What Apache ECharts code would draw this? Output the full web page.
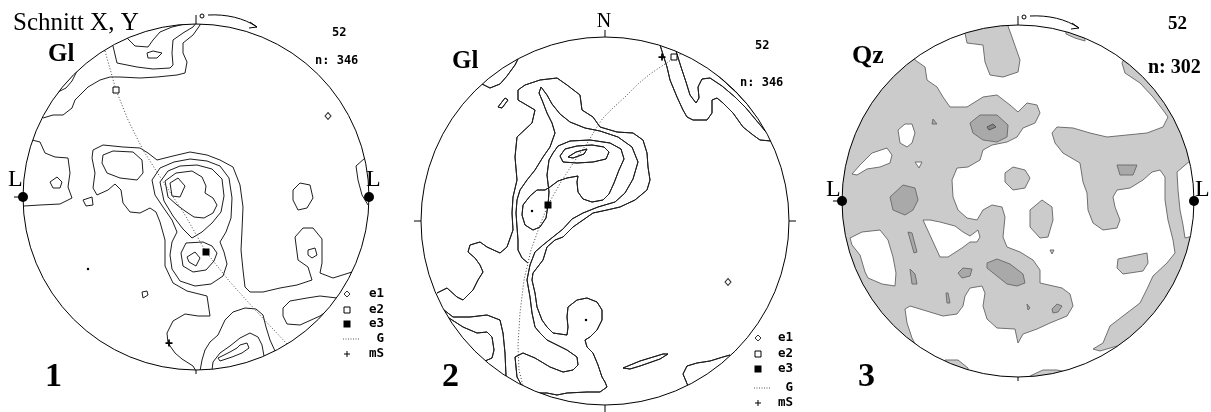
<!DOCTYPE html>
<html>
<head>
<meta charset="utf-8">
<script src="https://cdn.jsdelivr.net/npm/echarts/dist/echarts.min.js"></script>
<style>
  html, body { margin: 0; padding: 0; background: #fff; }
  #chart { width: 1211px; height: 412px; }
</style>
</head>
<body>
<div id="chart"></div>
<script>
// net units: origin = centre of the net, y up, net radius = panel r
var panels = [
  { cx: 196, cy: 197, r: 173 },
  { cx: 605, cy: 221, r: 184 },
  { cx: 1018, cy: 201, r: 176 }
];

var sectionTitle = 'Schnitt X, Y';
var mineral = ['Gl', 'Gl', 'Qz'];
var maxLabel = ['52', '52', '52'];
var nLabel = ['n: 346', 'n: 346', 'n: 302'];
var panelNo = ['1', '2', '3'];
var legendLabels = ['e1', 'e2', 'e3', 'G', 'mS'];

// ---- panel 1: Gl contours
var glContours1 = [
  [[-153,79],[-143,82],[-133,82],[-124,89],[-121,97],[-108,110],[-96,117],[-86,120],[-76,120],[-56,119],[-39,120],[-19,122],[-11,124],[-9,135],[-13,144],[-13,154],[-3,162],[2,169],[6,175]],
  [[-83,151],[-79,134],[-59,130],[-43,128],[-26,129],[-23,132],[-24,144],[-23,157],[-13,164],[-3,170],[0,174]],
  [[-69,159],[-61,151],[-48,150],[-43,157],[-36,165],[-24,170],[-11,173]],
  [[-49,144],[-43,146],[-34,144],[-39,139],[-48,139],[-49,144]],
  [[-138,105],[-130,109],[-124,116],[-119,126]],
  [[-164,57],[-156,55],[-151,44],[-141,40],[-128,39],[-126,24],[-128,10],[-124,-1],[-136,-7],[-156,-8],[-172,-9]],
  [[-146,15],[-139,20],[-134,15],[-136,9],[-143,9],[-146,15]],
  [[-113,-3],[-104,0],[-103,-8],[-110,-9],[-113,-3]],
  [[0,-174],[-3,-169],[-14,-162],[-21,-156],[-28,-146],[-29,-136],[-23,-124],[-11,-117],[2,-119],[14,-119],[11,-99],[-9,-94],[-23,-86],[-31,-69],[-31,-43],[-36,-25],[-40,-15],[-46,-11],[-56,-16],[-66,-15],[-73,-6],[-75,7],[-81,13],[-88,7],[-99,2],[-103,9],[-101,24],[-104,39],[-103,47],[-93,52],[-73,50],[-56,49],[-48,44],[-39,37],[-23,41],[-6,45],[11,42],[24,37],[37,30],[44,12],[47,-10],[46,-33],[45,-53],[47,-73],[49,-90],[54,-95],[67,-95],[84,-91],[101,-88],[116,-83],[112,-70],[102,-63],[99,-40],[107,-31],[117,-31],[126,-42],[126,-66],[124,-76],[137,-81],[156,-75]],
  [[-93,42],[-83,46],[-63,45],[-54,37],[-53,24],[-59,17],[-76,19],[-89,24],[-94,34],[-93,42]],
  [[-44,17],[-36,29],[-22,35],[-6,38],[11,36],[24,31],[33,19],[36,-1],[35,-21],[30,-35],[24,-45],[28,-55],[31,-67],[27,-79],[15,-87],[-1,-89],[-16,-84],[-24,-72],[-26,-58],[-24,-45],[-19,-35],[-24,-23],[-33,-10],[-41,2],[-44,17]],
  [[-36,15],[-28,26],[-16,31],[1,32],[16,28],[26,18],[28,1],[25,-15],[16,-26],[6,-35],[-4,-41],[-13,-32],[-23,-19],[-32,-4],[-36,15]],
  [[-31,16],[-20,24],[-4,26],[6,20],[10,11],[9,4],[17,-1],[21,-8],[17,-16],[8,-21],[-2,-20],[-11,-14],[-19,-8],[-28,0],[-31,16]],
  [[-26,14],[-18,19],[-11,11],[-16,0],[-24,1],[-26,14]],
  [[-10,-46],[-15,-56],[-13,-69],[-3,-75],[10,-73],[18,-64],[21,-56],[16,-49],[7,-45],[-10,-46]],
  [[-9,-60],[-1,-55],[4,-61],[0,-69],[-7,-65],[-9,-60]],
  [[112,-53],[119,-51],[121,-58],[116,-61],[112,-58],[112,-53]],
  [[97,7],[104,14],[114,12],[117,-1],[111,-11],[102,-13],[97,-3],[97,7]],
  [[169,39],[160,31],[162,17],[166,2],[172,-8]],
  [[141,-101],[124,-99],[111,-101],[94,-104],[87,-111],[87,-119],[91,-127],[104,-128],[124,-119],[135,-111]],
  [[4,-174],[6,-163],[9,-153],[14,-145],[22,-138],[29,-123],[37,-115],[49,-111],[60,-112],[67,-118],[70,-130],[74,-143],[79,-154]],
  [[16,-173],[17,-165],[24,-156],[34,-149],[44,-141],[54,-136],[62,-140],[66,-148],[68,-159]],
  [[22,-161],[34,-155],[41,-151],[44,-148],[51,-146],[53,-151],[46,-156],[36,-160],[24,-164],[22,-161]],
  [[-54,-95],[-49,-94],[-48,-98],[-53,-101],[-54,-95]]
];
var greatCircle1 = [[-91,146],[-80,107],[-68,77],[-53,47],[-34,17],[-11,-18],[10,-55],[34,-85],[62,-116],[91,-147]];
var e1Pts1 = [[132, 81]];
var e2Pts1 = [[-80, 107]];
var e3Pts1 = [[10, -55]];
var msPts1 = [[-27, -146]];
var spots1 = [[-108, -72]];
var lineation1 = [[-173, 0], [173, 0]];

// ---- panel 2: Gl contours
var glContours2 = [
  [[-123,137],[-115,133],[-105,137],[-98,145],[-90,156],[-87,162]],
  [[-107,114],[-100,123],[-97,121],[-103,113],[-107,114]],
  [[-168,-72],[-158,-67],[-148,-76],[-142,-79],[-132,-69],[-127,-59],[-122,-51],[-125,-44],[-130,-37],[-137,-31],[-135,-24],[-125,-21],[-118,-26],[-105,-32],[-98,-26],[-92,-9],[-93,8],[-92,24],[-88,41],[-90,64],[-88,84],[-73,98],[-70,111],[-87,121],[-87,131],[-80,136],[-65,141],[-48,143],[-38,136],[-25,126],[-23,111],[-12,104],[-5,94],[12,89],[28,88],[38,81],[42,68],[43,54],[45,41],[42,31],[30,21],[15,14],[2,11],[-12,8],[-22,1],[-32,-6],[-42,-16],[-50,-19],[-58,-26],[-62,-39],[-72,-52],[-73,-59],[-70,-72],[-68,-86],[-63,-99],[-58,-106],[-52,-112],[-38,-114],[-37,-106],[-38,-96],[-37,-86],[-28,-79],[-18,-77],[-8,-81],[-3,-89],[-3,-99],[-8,-109],[-15,-116],[-20,-119],[-18,-126],[-12,-132],[-7,-144],[-3,-156],[0,-161],[2,-166],[-5,-171],[-18,-171],[-38,-172],[-48,-174],[-58,-172],[-68,-172],[-78,-167]],
  [[-83,-165],[-88,-156],[-90,-136],[-82,-132],[-70,-137],[-55,-146],[-42,-151],[-32,-149],[-27,-144],[-28,-136],[-38,-129],[-48,-124],[-58,-119],[-65,-112],[-70,-106],[-73,-92],[-75,-76],[-78,-59],[-75,-44],[-70,-31],[-62,-24],[-52,-16],[-42,-8],[-33,2],[-22,8],[-7,14],[10,19],[20,28],[28,42],[33,59],[27,74],[13,84],[-5,90],[-20,93],[-35,99],[-45,107],[-53,117],[-58,126],[-64,134],[-66,128],[-63,121],[-58,108],[-53,98],[-50,88],[-55,74],[-62,64],[-70,51],[-78,41],[-85,31],[-88,21],[-89,8],[-88,-6],[-87,-19],[-87,-29],[-83,-37],[-77,-42]],
  [[-52,68],[-47,75],[-35,80],[-15,81],[5,78],[16,72],[19,62],[14,51],[9,38],[4,27],[-2,21],[-13,19],[-22,22],[-27,29],[-28,39],[-27,45],[-38,43],[-47,40],[-55,34],[-60,31],[-68,31],[-75,25],[-82,16],[-83,6],[-80,-4],[-72,-9],[-65,-6],[-59,3],[-57,16],[-56,29],[-58,46],[-56,61],[-52,68]],
  [[-45,65],[-40,72],[-28,75],[-13,76],[-1,74],[4,69],[1,62],[-12,59],[-28,58],[-42,59],[-45,65]],
  [[-37,64],[-29,69],[-18,72],[-21,67],[-32,63],[-37,64]],
  [[55,176],[62,154],[65,141],[72,124],[78,111],[82,104],[88,101],[102,101],[107,108],[107,121],[112,123],[118,118],[128,108],[138,94],[148,86],[155,81],[166,80]],
  [[71,170],[76,154],[81,139],[85,126],[91,118],[94,123],[93,134],[97,142],[105,143],[117,135],[130,124],[141,113],[151,101],[161,89]],
  [[109,149],[120,139],[132,128],[143,116],[151,106],[156,99]],
  [[18,-147],[35,-140],[58,-133],[63,-133],[55,-138],[35,-145],[25,-148],[18,-147]],
  [[83,-165],[78,-153],[82,-145],[92,-142],[105,-140],[118,-136],[125,-134]],
  [[-161,-89],[-152,-96],[-135,-96],[-118,-94],[-105,-99],[-102,-112],[-100,-132],[-99,-155]],
  [[-156,-97],[-142,-106],[-128,-112],[-118,-111],[-113,-116],[-111,-129],[-113,-137],[-120,-140]]
];
var greatCircle2 = [[78,168],[69,163],[57,155],[45,147],[33,137],[20,124],[8,113],[-2,103],[-10,91],[-17,79],[-27,65],[-35,53],[-44,39],[-52,25],[-57,16],[-65,-4],[-74,-29],[-81,-59],[-85,-92],[-87,-124],[-86,-149],[-82,-165]];
var e1Pts2 = [[123, -61]];
var e2Pts2 = [[69, 164]];
var e3Pts2 = [[-57, 16]];
var msPts2 = [[57, 164]];
var spots2 = [[-73, 10], [-19, -99]];

// ---- panel 3: Qz density areas
var qzGrey = [
  [[-103,141],[-93,134],[-91,121],[-81,114],[-75,104],[-68,94],[-51,94],[-35,104],[-21,106],[-8,96],[0,89],[9,98],[19,96],[22,88],[17,78],[5,73],[-1,64],[-11,59],[-26,56],[-35,51],[-38,41],[-50,34],[-61,33],[-66,21],[-65,4],[-60,-9],[-51,-17],[-41,-19],[-35,-9],[-26,-4],[-16,-6],[-13,-16],[-15,-36],[-11,-46],[2,-51],[15,-59],[22,-69],[22,-82],[44,-87],[52,-93],[55,-105],[49,-115],[32,-122],[19,-128],[5,-133],[0,-142],[-3,-128],[-21,-127],[-31,-118],[-35,-105],[-33,-92],[-36,-85],[-48,-87],[-53,-95],[-55,-105],[-61,-113],[-75,-115],[-98,-108],[-108,-105],[-113,-108],[-111,-122],[-106,-137],[-103,-143],[-110,-155],[-145,-125],[-175,-75],[-190,0],[-175,75],[-145,123],[-110,153]],
  [[104,138],[107,128],[122,118],[135,104],[145,91],[150,84],[145,74],[129,68],[109,66],[89,64],[72,68],[55,73],[39,74],[34,68],[37,58],[45,48],[62,38],[65,19],[69,8],[70,-9],[75,-22],[85,-29],[99,-27],[102,-19],[97,-6],[95,4],[99,11],[112,13],[125,21],[134,29],[142,31],[147,24],[147,1],[150,-19],[155,-39],[157,-52],[149,-62],[135,-75],[129,-88],[122,-102],[105,-115],[92,-125],[85,-142],[75,-148],[82,-150],[99,-145],[105,-158],[150,-112],[180,-60],[190,0],[180,60],[150,112],[110,150]],
  [[-53,168],[-51,158],[-35,156],[-33,139],[-28,126],[-15,124],[0,129],[2,141],[-5,161],[-10,175],[-10,185],[-28,185],[-53,181]],
  [[-73,-159],[-60,-159],[-50,-167],[-50,-182],[-78,-172]],
  [[12,-175],[25,-169],[39,-169],[48,-171],[48,-183],[12,-186]],
  [[48,167],[57,163],[67,160],[67,172],[48,180]]
];
var qzHoles = [
  [[-120,71],[-113,77],[-106,77],[-103,68],[-106,58],[-111,54],[-118,58]],
  [[-166,27],[-158,36],[-146,48],[-131,53],[-126,46],[-128,38],[-138,34],[-151,32],[-161,26]],
  [[-103,39],[-96,39],[-99,33]],
  [[-95,-19],[-78,-56],[-70,-56],[-56,-47],[-48,-41],[-41,-41],[-38,-36],[-40,-29],[-48,-35],[-55,-31],[-63,-25],[-78,-21],[-88,-19]],
  [[-168,-37],[-156,-31],[-138,-29],[-130,-39],[-125,-56],[-122,-72],[-123,-85],[-136,-83],[-150,-77],[-153,-71],[-158,-54],[-166,-44]],
  [[173,41],[159,29],[160,11],[162,-9],[165,-24],[167,-37],[175,-35],[190,-35],[190,41]]
];
var qzIslands = [
  [[-13,28],[-5,34],[7,31],[12,23],[7,13],[-5,11],[-13,19]],
  [[12,-9],[24,1],[34,-6],[35,-19],[30,-36],[22,-37],[12,-26]],
  [[32,-49],[36,-49],[34,-53]],
  [[100,-58],[129,-52],[130,-62],[125,-70],[105,-73],[99,-67]]
];
var qzDark = [
  [[-48,78],[-38,86],[-21,86],[-10,76],[-11,64],[-21,59],[-35,61],[-45,68]],
  [[-128,4],[-115,16],[-103,13],[-100,1],[-105,-9],[-113,-14],[-125,-9]],
  [[-31,-62],[-21,-58],[-8,-63],[5,-73],[7,-82],[-1,-85],[-11,-83],[-21,-75],[-31,-67]],
  [[-60,-72],[-55,-67],[-46,-68],[-48,-75],[-56,-77]],
  [[-110,-31],[-106,-32],[-101,-51],[-104,-52]],
  [[-108,-68],[-103,-73],[-101,-83],[-106,-83]],
  [[99,36],[119,36],[115,26],[102,26]],
  [[-72,-92],[-70,-92],[-68,-102],[-71,-102]],
  [[34,-108],[39,-103],[44,-105],[40,-111],[35,-112]],
  [[9,-103],[12,-107],[10,-109]],
  [[-85,82],[-81,77],[-86,77]]
];
var qzDarkest = [
  [[-31,74],[-25,77],[-22,74],[-29,71]]
];
var lineation3 = [[-176, 0], [176, 0]];

var contourInk = '#1e1e1e';

// every shape list of a panel becomes one group, drawn through that panel's axes
function shapeSeries(i, shapes, opt) {
  return {
    type: 'custom', xAxisIndex: i, yAxisIndex: i, z: opt.z, silent: true,
    data: [[0, 0]],
    renderItem: function (params, api) {
      var kids = shapes.map(function (shape) {
        var pts = shape.map(function (p) { return api.coord(p); });
        var st = { fill: opt.fill || 'none', stroke: opt.stroke, lineWidth: opt.width };
        if (opt.dash) st.lineDash = opt.dash;
        return { type: opt.fill ? 'polygon' : 'polyline', shape: { points: pts }, style: st };
      });
      return { type: 'group', children: kids };
    }
  };
}

// net outline, white mask outside it, ticks / sense arrow; optional lines drawn under the mask
function frameSeries(i, kind, lines) {
  var R = panels[i].r;
  return {
    type: 'custom', xAxisIndex: i, yAxisIndex: i, z: 8, silent: true,
    data: [[0, 0]],
    renderItem: function (params, api) {
      var c = api.coord([0, 0]);
      var rp = api.size([R, R])[0];
      var top = [c[0], c[1] - rp], bot = [c[0], c[1] + rp], lft = [c[0] - rp, c[1]], rgt = [c[0] + rp, c[1]];
      var ink = { stroke: '#000', lineWidth: 1, fill: 'none' };
      var kids = (lines || []).map(function (s) {
        return { type: 'polyline', shape: { points: s.map(function (p) { return api.coord(p); }) }, style: { fill: 'none', stroke: contourInk, lineWidth: 1 } };
      });
      kids.push({ type: 'circle', shape: { cx: c[0], cy: c[1], r: rp + 11 }, style: { fill: 'none', stroke: '#fff', lineWidth: 22 } });
      kids.push({ type: 'circle', shape: { cx: c[0], cy: c[1], r: rp }, style: ink });
      function seg(x1, y1, x2, y2) {
        kids.push({ type: 'line', shape: { x1: x1, y1: y1, x2: x2, y2: y2 }, style: ink });
      }
      if (kind === 'compass') {
        seg(top[0], top[1], top[0], top[1] - 7);
        seg(bot[0], bot[1], bot[0], bot[1] + 7);
        seg(lft[0], lft[1], lft[0] - 7, lft[1]);
        seg(rgt[0], rgt[1], rgt[0] + 7, rgt[1]);
      } else {
        seg(top[0], top[1], top[0], top[1] - 9);
        seg(bot[0], bot[1], bot[0], bot[1] + 4);
        seg(lft[0], lft[1], lft[0] - 9, lft[1]);
        kids.push({ type: 'circle', shape: { cx: top[0] + 6, cy: top[1] - 8, r: 2 }, style: ink });
        kids.push({ type: 'bezierCurve', shape: { x1: top[0] + 12, y1: top[1] - 9, cpx1: top[0] + 30, cpy1: top[1] - 10, cpx2: top[0] + 48, cpy2: top[1] - 6, x2: top[0] + 61, y2: top[1] + 3 }, style: ink });
        var ex = top[0] + 61, ey = top[1] + 3;
        kids.push({ type: 'polyline', shape: { points: [[ex - 7, ey - 5], [ex, ey], [ex - 8, ey + 1]] }, style: ink });
      }
      return { type: 'group', children: kids };
    }
  };
}

function marks(i, pts, symbol, size, fill, border) {
  return {
    type: 'scatter', xAxisIndex: i, yAxisIndex: i, z: 9, silent: true, clip: false,
    data: pts, symbol: symbol, symbolSize: size,
    itemStyle: { color: fill, borderColor: border || fill, borderWidth: border ? 1 : 0, opacity: 1 }
  };
}

var plusPath = 'path://M3,0H5V3H8V5H5V8H3V5H0V3H3Z';

var series = [
  shapeSeries(2, qzGrey, { fill: '#cbcbcb', stroke: '#707070', width: 1, z: 1 }),
  shapeSeries(2, qzHoles, { fill: '#ffffff', stroke: '#707070', width: 1, z: 2 }),
  shapeSeries(2, qzIslands, { fill: '#cbcbcb', stroke: '#707070', width: 1, z: 3 }),
  shapeSeries(2, qzDark, { fill: '#a9a9a9', stroke: '#707070', width: 1, z: 4 }),
  shapeSeries(2, qzDarkest, { fill: '#858585', stroke: '#555', width: 1, z: 5 }),
  shapeSeries(0, glContours1, { stroke: contourInk, width: 1, z: 6 }),
  shapeSeries(0, [greatCircle1], { stroke: '#444', width: 1, dash: [1, 2], z: 7 }),
  shapeSeries(1, [greatCircle2], { stroke: '#444', width: 1, dash: [1, 2], z: 7 }),
  frameSeries(0, 'arrow'),
  frameSeries(1, 'compass', glContours2),
  frameSeries(2, 'arrow'),
  marks(0, lineation1, 'circle', 10, '#000'),
  marks(2, lineation3, 'circle', 10, '#000'),
  marks(0, e1Pts1, 'diamond', [6, 7], '#fff', '#333'),
  marks(0, e2Pts1, 'rect', 6, '#fff', '#000'),
  marks(0, e3Pts1, 'rect', 7, '#000'),
  marks(0, msPts1, plusPath, 7, '#000'),
  marks(0, spots1, 'circle', 2.5, '#000'),
  marks(1, e1Pts2, 'diamond', [6, 7], '#fff', '#333'),
  marks(1, e2Pts2, 'rect', 6, '#fff', '#000'),
  marks(1, e3Pts2, 'rect', 7, '#000'),
  marks(1, msPts2, plusPath, 7, '#000'),
  marks(1, spots2, 'circle', 2.5, '#000')
].concat(glContours2.map(function (s) {
  return {
    type: 'line', xAxisIndex: 1, yAxisIndex: 1, z: 6, silent: true, clip: false,
    data: s, symbol: 'none', lineStyle: { color: contourInk, width: 1 }
  };
}));

function txt(s, x, y, font, align) {
  return {
    type: 'text', x: x, y: y, z: 100, silent: true,
    style: { text: s, font: font, fill: '#000', textAlign: align || 'left', textVerticalAlign: 'middle' }
  };
}

var serif = '"Liberation Serif", "Times New Roman", serif';
var mono = '"DejaVu Sans Mono", monospace';

function legendBlock(sx, tx, ys) {
  var out = [];
  var ink = { stroke: '#000', lineWidth: 1, fill: 'none' };
  legendLabels.forEach(function (lab, k) {
    var y = ys[k];
    if (k === 0) out.push({ type: 'polygon', z: 100, shape: { points: [[sx, y - 3], [sx + 3, y], [sx, y + 3], [sx - 3, y]] }, style: { fill: '#fff', stroke: '#333', lineWidth: 1 } });
    if (k === 1) out.push({ type: 'rect', z: 100, shape: { x: sx - 3, y: y - 3, width: 6, height: 6 }, style: { fill: '#fff', stroke: '#000', lineWidth: 1 } });
    if (k === 2) out.push({ type: 'rect', z: 100, shape: { x: sx - 3.5, y: y - 3.5, width: 7, height: 7 }, style: { fill: '#000' } });
    if (k === 3) out.push({ type: 'line', z: 100, shape: { x1: sx - 4, y1: y, x2: sx + 13, y2: y }, style: { stroke: '#555', lineWidth: 1, lineDash: [1, 1.5] } });
    if (k === 4) {
      out.push({ type: 'line', z: 100, shape: { x1: sx - 3, y1: y, x2: sx + 3, y2: y }, style: ink });
      out.push({ type: 'line', z: 100, shape: { x1: sx, y1: y - 3, x2: sx, y2: y + 3 }, style: ink });
    }
    out.push(txt(lab, tx, y, 'bold 12.5px ' + mono, 'right'));
  });
  return out;
}

var elements = [
  txt(sectionTitle, 13, 23.6, '25px ' + serif),
  // panel 1
  txt(mineral[0], 48, 54.6, 'bold 25px ' + serif),
  txt(maxLabel[0], 332, 32.9, 'bold 12px ' + mono),
  txt(nLabel[0], 315, 60.9, 'bold 12px ' + mono),
  txt('L', 8, 179.9, '24px ' + serif),
  txt('L', 366, 179.9, '24px ' + serif),
  txt(panelNo[0], 45, 377.5, 'bold 34px ' + serif),
  // panel 2
  txt('N', 604, 21.3, '20px ' + serif, 'center'),
  txt(mineral[1], 452, 61.6, 'bold 25px ' + serif),
  txt(maxLabel[1], 755, 45.9, 'bold 12px ' + mono),
  txt(nLabel[1], 740, 82.9, 'bold 12px ' + mono),
  txt(panelNo[1], 442, 377.5, 'bold 34px ' + serif),
  // panel 3
  txt(mineral[2], 852, 56.2, 'bold 26px ' + serif),
  txt(maxLabel[2], 1168, 23.6, 'bold 19px ' + serif),
  txt(nLabel[2], 1148, 68.3, 'bold 20px ' + serif),
  txt('L', 826, 189.9, '24px ' + serif),
  txt('L', 1195, 189.9, '24px ' + serif),
  txt(panelNo[2], 858, 377.5, 'bold 34px ' + serif)
].concat(legendBlock(347, 384, [294, 310, 324, 339, 354]))
 .concat(legendBlock(758, 793, [338, 354, 369, 388, 403]));

var option = {
  animation: false,
  backgroundColor: '#fff',
  grid: panels.map(function (p) {
    return { left: p.cx - p.r, top: p.cy - p.r, width: 2 * p.r, height: 2 * p.r };
  }),
  xAxis: panels.map(function (p, i) {
    return { type: 'value', gridIndex: i, min: -p.r, max: p.r, show: false };
  }),
  yAxis: panels.map(function (p, i) {
    return { type: 'value', gridIndex: i, min: -p.r, max: p.r, show: false };
  }),
  series: series,
  graphic: { elements: elements }
};

var chart = echarts.init(document.getElementById('chart'));
chart.setOption(option);
</script>
</body>
</html>
